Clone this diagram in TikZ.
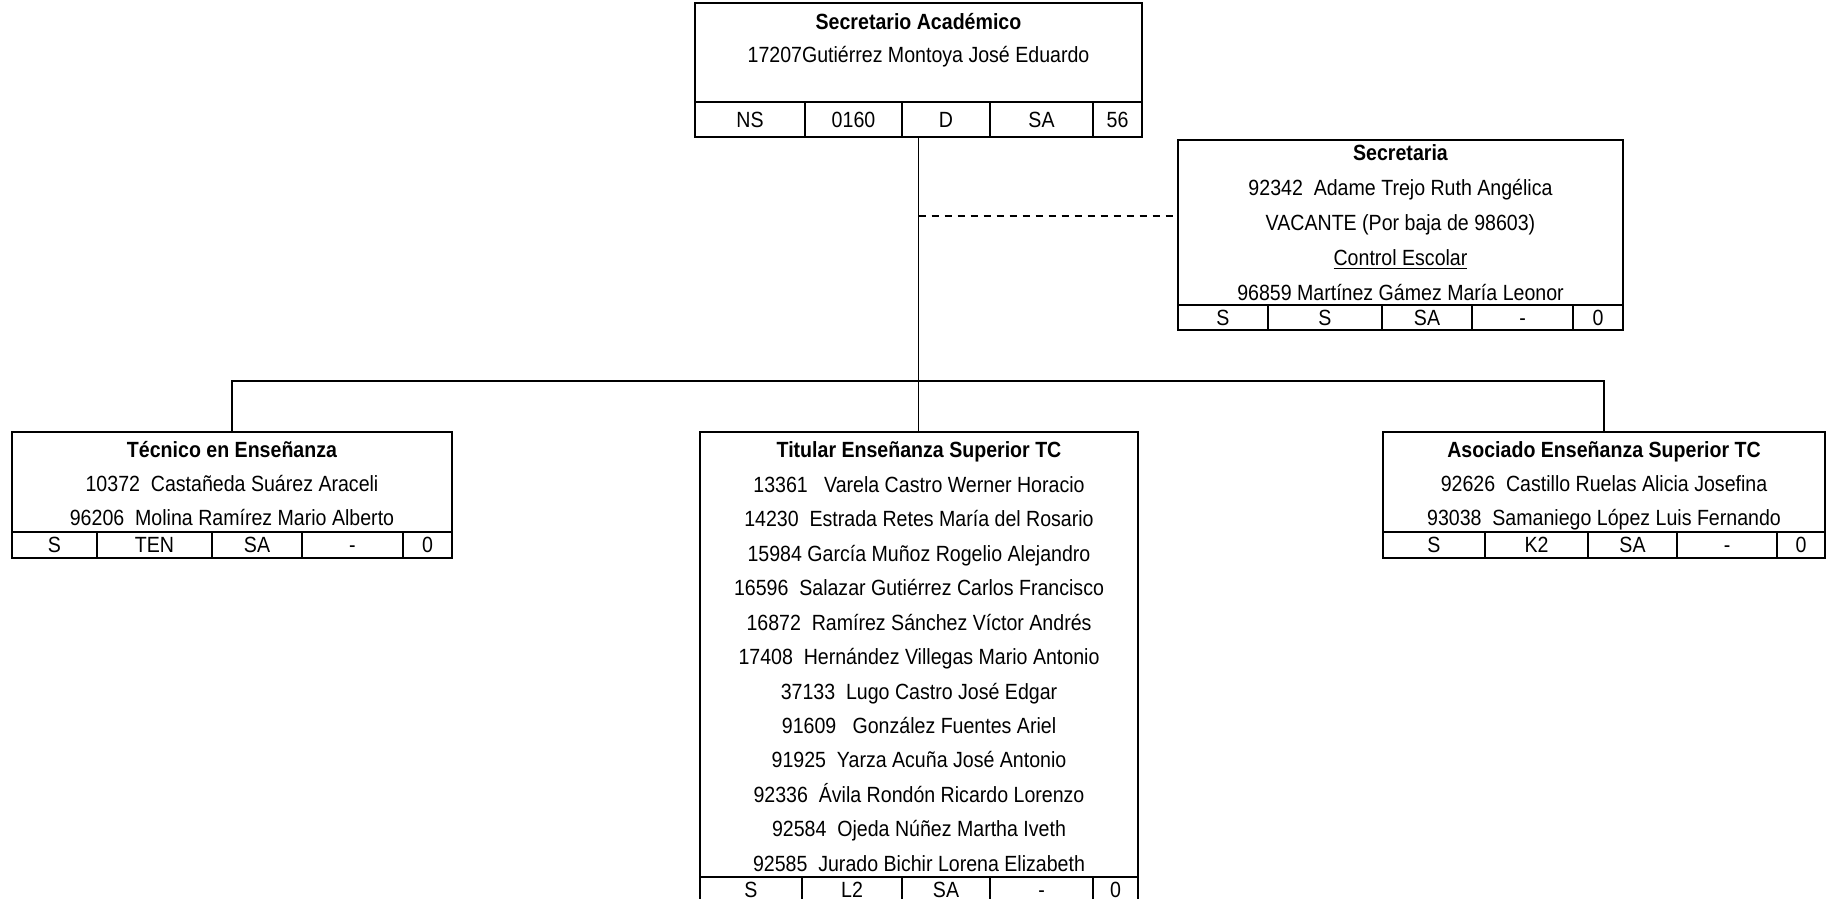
\documentclass[tikz,border=0pt]{standalone}
\usepackage{fontspec}
\setmainfont[FakeStretch=0.89]{Liberation Sans}
\tikzset{
    caja/.style={draw, line width=1pt, rectangle, anchor=north west, inner sep=0pt, outer sep=0pt},
    texto/.style={font=\fontsize{11}{13}\selectfont, inner sep=0pt, text height=7.9pt, text depth=0pt},
    titulo/.style={texto, font=\fontsize{11}{13}\selectfont\bfseries},
    celda/.style={line width=1pt},
    conector/.style={line width=0.65pt},
    punteada/.style={line width=1pt, dash pattern=on 3.5pt off 3pt}
}

\begin{document}
\begin{tikzpicture}[x=0.5pt, y=-0.5pt]
    \useasboundingbox (0,0) rectangle (1831,899);

    % 1. Secretario Academico
    \node[caja, minimum width=223.5pt, minimum height=67pt] (acad) at (695,3) {};
    \node[titulo] (acad-tit) at (918.5,22) {Secretario Académico};
    \node[texto] (acad-nom) at (918.5,55) {17207Gutiérrez Montoya José Eduardo};
    \draw[celda] (695,102) -- (1142,102);
    \foreach \xa/\xb/\cod [count=\i] in {695/805/NS, 805/902/0160, 902/990/D, 990/1093/SA, 1093/1142/56} {
        \draw[celda] (\xb,102) -- (\xb,137);
        \node[texto] (acad-c\i) at ({(\xa+\xb)/2},120) {\cod};
    }

    % 2. Secretaria
    \node[caja, minimum width=222.5pt, minimum height=95pt] (secre) at (1178,140) {};
    \node[titulo] (secre-tit) at (1400.5,153) {Secretaria};
    \foreach \nombre [count=\i] in {92342~~Adame Trejo Ruth Angélica, VACANTE (Por baja de 98603), \underline{Control Escolar}, 96859 Martínez Gámez María Leonor} {
        \node[texto] (secre-n\i) at (1400.5,{153+34.9*\i}) {\nombre};
    }
    \draw[celda] (1178,305) -- (1623,305);
    \foreach \xa/\xb/\cod [count=\i] in {1178/1268/S, 1268/1382/S, 1382/1472/SA, 1472/1573/-, 1573/1623/0} {
        \draw[celda] (\xb,305) -- (\xb,330);
        \node[texto] (secre-c\i) at ({(\xa+\xb)/2},318) {\cod};
    }

    % 3. Tecnico en Ensenanza
    \node[caja, minimum width=220pt, minimum height=63pt] (tecnico) at (12,432) {};
    \node[titulo] (tecnico-tit) at (232,450) {Técnico en Enseñanza};
    \foreach \nombre [count=\i] in {10372~~Castañeda Suárez Araceli, 96206~~Molina Ramírez Mario Alberto} {
        \node[texto] (tecnico-n\i) at (232,{450+34*\i}) {\nombre};
    }
    \draw[celda] (12,532) -- (452,532);
    \foreach \xa/\xb/\cod [count=\i] in {12/97/S, 97/212/TEN, 212/302/SA, 302/403/-, 403/452/0} {
        \draw[celda] (\xb,532) -- (\xb,558);
        \node[texto] (tecnico-c\i) at ({(\xa+\xb)/2},545) {\cod};
    }

    % 4. Titular Ensenanza Superior TC
    \node[caja, minimum width=219pt, minimum height=235.5pt] (titular) at (700,432) {};
    \node[titulo] (titular-tit) at (919,450) {Titular Enseñanza Superior TC};
    \foreach \nombre [count=\i] in {13361~~~Varela Castro Werner Horacio, 14230~~Estrada Retes María del Rosario,
        15984 García Muñoz Rogelio Alejandro, 16596~~Salazar Gutiérrez Carlos Francisco,
        16872~~Ramírez Sánchez Víctor Andrés, 17408~~Hernández Villegas Mario Antonio,
        37133~~Lugo Castro José Edgar, 91609~~~González Fuentes Ariel,
        91925~~Yarza Acuña José Antonio, 92336~~Ávila Rondón Ricardo Lorenzo,
        92584~~Ojeda Núñez Martha Iveth, 92585~~Jurado Bichir Lorena Elizabeth} {
        \node[texto] (titular-n\i) at (919,{450+34.45*\i}) {\nombre};
    }
    \draw[celda] (700,877) -- (1138,877);
    \foreach \xa/\xb/\cod [count=\i] in {700/802/S, 802/902/L2, 902/990/SA, 990/1093/-, 1093/1138/0} {
        \draw[celda] (\xb,877) -- (\xb,903);
        \node[texto] (titular-c\i) at ({(\xa+\xb)/2},890) {\cod};
    }

    % 5. Asociado Ensenanza Superior TC
    \node[caja, minimum width=221pt, minimum height=63pt] (asociado) at (1383,432) {};
    \node[titulo] (asociado-tit) at (1604,450) {Asociado Enseñanza Superior TC};
    \foreach \nombre [count=\i] in {92626~~Castillo Ruelas Alicia Josefina, 93038~~Samaniego López Luis Fernando} {
        \node[texto] (asociado-n\i) at (1604,{450+34*\i}) {\nombre};
    }
    \draw[celda] (1383,532) -- (1825,532);
    \foreach \xa/\xb/\cod [count=\i] in {1383/1485/S, 1485/1588/K2, 1588/1677/SA, 1677/1777/-, 1777/1825/0} {
        \draw[celda] (\xb,532) -- (\xb,558);
        \node[texto] (asociado-c\i) at ({(\xa+\xb)/2},545) {\cod};
    }

    % Connectors
    \coordinate (bus) at (918.5,381);
    \coordinate (rama) at (918.5,216);
    \draw[conector] (acad.south) -- (acad.south |- titular.north);
    \draw[conector] (tecnico.north) -- (tecnico.north |- bus) -- (asociado.north |- bus) -- (asociado.north);
    \draw[punteada] (rama) -- (rama -| secre.west);
\end{tikzpicture}
\end{document}
